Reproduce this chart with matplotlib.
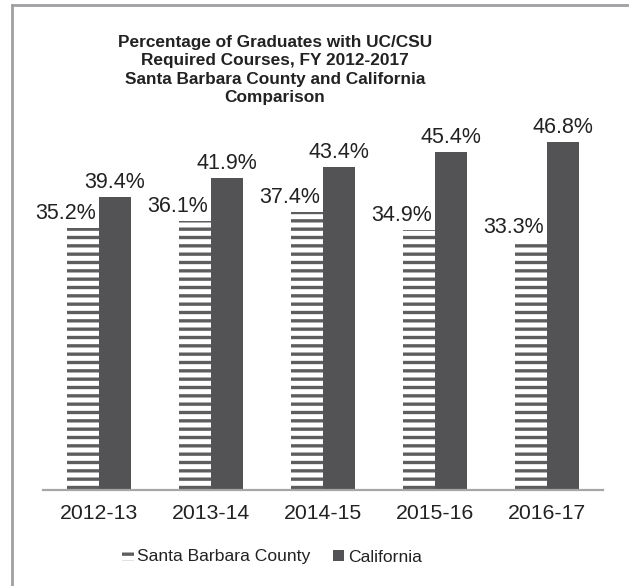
import numpy as np
import matplotlib
matplotlib.use("Agg")
import matplotlib.pyplot as plt
from matplotlib.patches import Patch
from matplotlib.lines import Line2D

# ─── data ─────────────────────────────────────────────────────────────────────
years = ["2012-13", "2013-14", "2014-15", "2015-16", "2016-17"]
sb_county = [35.2, 36.1, 37.4, 34.9, 33.3]
california = [39.4, 41.9, 43.4, 45.4, 46.8]

title = ("Percentage of Graduates with UC/CSU\n"
         "Required Courses, FY 2012-2017\n"
         "Santa Barbara County and California\n"
         "Comparison")

plt.rcParams["font.family"] = ["Liberation Sans", "DejaVu Sans"]
plt.rcParams["hatch.linewidth"] = 2.4

DARK = "#535355"
STRIPE = "#5d5d5d"
TXT = "#222222"

fig = plt.figure(figsize=(6.29, 5.86), dpi=100)
ax = fig.add_axes([43 / 629, 1 - 490 / 586, 560 / 629, 372 / 586])

x = np.arange(len(years))
w = 0.285
ax.bar(x - w / 2, sb_county, w, color="white", edgecolor=STRIPE,
       hatch="--", linewidth=0)
ax.bar(x + w / 2, california, w, color=DARK, linewidth=0)

# value labels
for xi, v in zip(x, sb_county):
    ax.annotate(f"{v:.1f}%", (xi, v), xytext=(-2, 3), textcoords="offset points",
                ha="right", va="bottom", fontsize=15.5, color=TXT)
for xi, v in zip(x, california):
    ax.annotate(f"{v:.1f}%", (xi + w / 2, v), xytext=(0, 3),
                textcoords="offset points", ha="center", va="bottom",
                fontsize=15.5, color=TXT)

ax.set_xlim(-0.5, len(years) - 0.5)
ax.set_ylim(0, 50)
ax.set_xticks(x)
ax.set_xticklabels(years, fontsize=15.3, color=TXT)
ax.tick_params(axis="x", length=0, pad=10)
ax.set_yticks([])
for s in ["top", "right", "left"]:
    ax.spines[s].set_visible(False)
ax.spines["bottom"].set_color("#a6a6a6")
ax.spines["bottom"].set_linewidth(1.6)

fig.text(275 / 629, 1 - 70 / 586, title, ha="center", va="center",
         fontsize=12.4, fontweight="bold", linespacing=1.3, color=TXT)

handles = [Patch(facecolor="white", edgecolor=STRIPE, hatch="--", linewidth=0),
           Patch(facecolor=DARK, linewidth=0)]
fig.legend(handles, ["Santa Barbara County", "California"],
           loc="center", bbox_to_anchor=(272 / 629, 1 - 557 / 586), ncol=2,
           frameon=False, fontsize=12.6, handlelength=0.65, handleheight=0.65,
           handletextpad=0.2, columnspacing=1.3, labelcolor=TXT)

# outer frame (top and left edges only visible)
fig.add_artist(Line2D([12 / 629, 1], [1 - 5 / 586, 1 - 5 / 586],
                      transform=fig.transFigure, color="#a0a0a4", lw=2))
fig.add_artist(Line2D([12 / 629, 12 / 629], [0, 1 - 5 / 586],
                      transform=fig.transFigure, color="#a0a0a4", lw=2))

fig.savefig("out.png", dpi=100)
